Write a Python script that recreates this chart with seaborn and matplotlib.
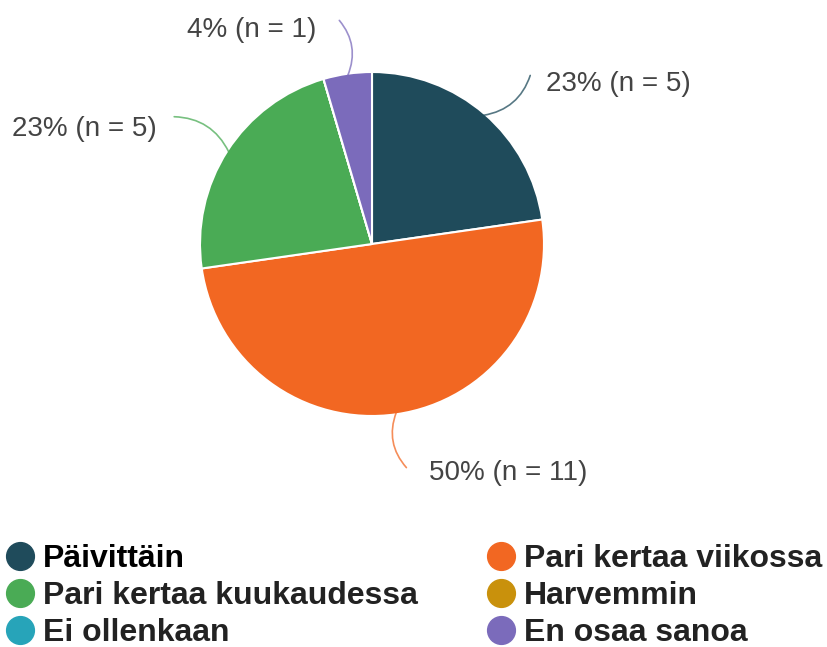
import matplotlib
matplotlib.use("Agg")
import numpy as np
import matplotlib.pyplot as plt
from matplotlib.lines import Line2D
import seaborn as sns

# data
kategoriat = ["Päivittäin", "Pari kertaa viikossa", "Pari kertaa kuukaudessa",
              "Harvemmin", "Ei ollenkaan", "En osaa sanoa"]
lukumaarat = [5, 11, 5, 0, 0, 1]
prosentit = [23, 50, 23, 0, 0, 4]
varit = ["#1f4b5b", "#f26722", "#4aab55", "#c9910c", "#27a4b9", "#7b6bbb"]

sns.set_theme(style="white")
plt.rcParams['font.family'] = ['Liberation Sans', 'DejaVu Sans']

W, H = 827, 647
fig = plt.figure(figsize=(W / 100, H / 100), dpi=100)

# pie centre (372, 244) px, radius 172 px
cx, cy, r = 372, 244, 172
ax = fig.add_axes([(cx - r) / W, (H - cy - r) / H, 2 * r / W, 2 * r / H])

wedges, _ = ax.pie(lukumaarat, colors=varit, startangle=90, counterclock=False,
                   radius=1, center=(0, 0),
                   wedgeprops=dict(edgecolor="white", linewidth=1.5))
ax.set_xlim(-1, 1)
ax.set_ylim(-1, 1)
ax.set_aspect("equal")
ax.axis("off")

# labels: slice index -> (text xy, leader end xy, ha, rad)
sijainnit = {
    0: ((1.01, 0.93), (0.92, 0.98), "left", -0.3),
    1: ((0.33, -1.33), (0.20, -1.30), "left", -0.3),
    2: ((-1.25, 0.67), (-1.15, 0.74), "right", -0.3),
    5: ((-0.70, 1.245), (-0.19, 1.30), "center", -0.3),
}
for i, (txy, exy, ha, rad) in sijainnit.items():
    w = wedges[i]
    ang = np.deg2rad((w.theta1 + w.theta2) / 2)
    sx, sy = np.cos(ang) * 0.99, np.sin(ang) * 0.99
    ax.annotate("", xy=(sx, sy), xytext=exy,
                arrowprops=dict(arrowstyle="-", color=varit[i], alpha=0.75, lw=1.2,
                                connectionstyle=f"arc3,rad={rad}",
                                shrinkA=0, shrinkB=0),
                annotation_clip=False)
    ax.text(txy[0], txy[1], f"{prosentit[i]}% (n = {lukumaarat[i]})",
            ha=ha, va="center", fontsize=20, color="#444444", clip_on=False)

# legend, two columns, filled row-wise
kahvat = [Line2D([], [], marker="o", linestyle="none", markersize=20,
                 markerfacecolor=c, markeredgecolor=c) for c in varit]
jarjestys = [0, 2, 4, 1, 3, 5]
leg = fig.legend([kahvat[j] for j in jarjestys], [kategoriat[j] for j in jarjestys],
                 ncol=2, loc="upper left", bbox_to_anchor=(6 / W, 1 - 544 / H),
                 frameon=False, handlelength=0.85, handletextpad=0.3,
                 columnspacing=2.19, labelspacing=0.22, borderpad=0, borderaxespad=0,
                 prop=dict(weight="bold", size=23))
for t in leg.get_texts():
    t.set_color("#222222")
leg.get_texts()[0].set_color("black")

fig.savefig("out.png", dpi=100)
